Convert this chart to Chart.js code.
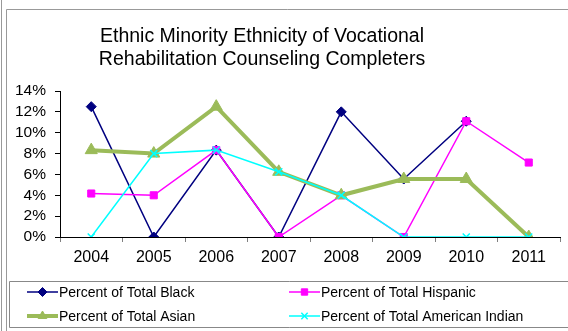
<!DOCTYPE html>
<html>
<head>
<meta charset="utf-8">
<script src="https://cdn.jsdelivr.net/npm/chart.js@4"></script>
<style>
html,body{margin:0;padding:0;background:#fff;}
#wrap{width:568px;height:331px;position:relative;}
</style>
</head>
<body>
<div id="wrap"><canvas id="c" width="568" height="331"></canvas></div>
<script>
const categories = ['2004','2005','2006','2007','2008','2009','2010','2011'];
const black    = [12.5, 0, 8.33, 0, 12.0, 5.56, 11.1, null];
const hispanic = [4.17, 4.0, 8.33, 0, 4.0, 0, 11.1, 7.14];
const asian    = [8.33, 8.0, 12.5, 6.25, 4.0, 5.56, 5.56, 0];
const amIndian = [0, 8.0, 8.33, 6.25, 4.0, 0, 0, 0];
const seriesLabels = ['Percent of Total Black','Percent of Total Hispanic','Percent of Total Asian','Percent of Total American Indian'];
const titleLines = ['Ethnic Minority Ethnicity of Vocational','Rehabilitation Counseling Completers'];
const yTicks = [0,2,4,6,8,10,12,14];

const FONT = '"Liberation Sans", Arial, sans-serif';

const frame = {
  id:'frame',
  beforeDraw(chart){
    const ctx = chart.ctx;
    ctx.save();
    ctx.fillStyle = '#fff';
    ctx.fillRect(0,0,chart.width,chart.height);
    ctx.strokeStyle = '#999';
    ctx.lineWidth = 1;
    ctx.beginPath();
    ctx.moveTo(1.5,0); ctx.lineTo(1.5,331);
    ctx.moveTo(6.5,331); ctx.lineTo(6.5,9.5); ctx.lineTo(568,9.5);
    ctx.stroke();
    // legend box
    ctx.strokeStyle = '#888';
    ctx.beginPath();
    ctx.moveTo(570,281.5); ctx.lineTo(9.5,281.5); ctx.lineTo(9.5,327.5); ctx.lineTo(570,327.5);
    ctx.stroke();
    // title
    ctx.fillStyle = '#000';
    ctx.font = '19.5px ' + FONT;
    ctx.textAlign = 'center';
    ctx.textBaseline = 'alphabetic';
    ctx.fillText(titleLines[0], 262, 42);
    ctx.fillText(titleLines[1], 262, 65);
    ctx.restore();
  },
  afterDraw(chart){
    const ctx = chart.ctx;
    ctx.save();
    const cols = [27, 289];
    const rows = [292, 316];
    chart.data.datasets.forEach((ds,i)=>{
      const x0 = cols[i%2], y = rows[Math.floor(i/2)];
      ctx.strokeStyle = ds.borderColor;
      ctx.lineWidth = ds.borderWidth;
      ctx.beginPath();
      ctx.moveTo(x0, y); ctx.lineTo(x0+31, y);
      ctx.stroke();
      ctx.fillStyle = ds.pointBackgroundColor;
      ctx.strokeStyle = ds.pointBorderColor;
      ctx.lineWidth = ds.pointBorderWidth;
      Chart.helpers.drawPoint(ctx, {pointStyle: ds.pointStyle, radius: ds.legendRadius, borderWidth: ds.pointBorderWidth, rotation:0}, x0+15.5, y);
      ctx.fillStyle = '#000';
      ctx.font = '14px ' + FONT;
      ctx.textAlign = 'left';
      ctx.textBaseline = 'middle';
      ctx.fillText(ds.label, x0+32, y+1);
    });
    ctx.restore();
  }
};

new Chart(document.getElementById('c'), {
  type:'line',
  data:{
    labels: categories,
    datasets:[
      {label:seriesLabels[0], data:black, borderColor:'#000080', borderWidth:1.5,
       pointStyle:'rectRot', pointRadius:5, legendRadius:4.5, pointBackgroundColor:'#000080', pointBorderColor:'#000080', pointBorderWidth:1, order:4, spanGaps:false},
      {label:seriesLabels[1], data:hispanic, borderColor:'#FF00FF', borderWidth:1.5,
       pointStyle:'rect', pointRadius:5, legendRadius:4.5, pointBackgroundColor:'#FF00FF', pointBorderColor:'#FF00FF', pointBorderWidth:1, order:3},
      {label:seriesLabels[2], data:asian, borderColor:'#9BBB59', borderWidth:4,
       pointStyle:'triangle', pointRadius:7, legendRadius:5, pointBackgroundColor:'#9BBB59', pointBorderColor:'#9BBB59', pointBorderWidth:1, order:2},
      {label:seriesLabels[3], data:amIndian, borderColor:'#00FFFF', borderWidth:1.5,
       pointStyle:'crossRot', pointRadius:5, legendRadius:4.5, pointBackgroundColor:'#00FFFF', pointBorderColor:'#00FFFF', pointBorderWidth:1.5, order:1}
    ]
  },
  options:{
    responsive:false,
    animation:false,
    events:[],
    layout:{padding:{left:0,right:7,top:91,bottom:0}},
    plugins:{legend:{display:false}, title:{display:false}, tooltip:{enabled:false}},
    elements:{line:{tension:0}},
    scales:{
      x:{
        offset:true,
        afterFit(s){ s.height = 94; },
        grid:{display:true, drawOnChartArea:false, offset:true, tickLength:5, color:'#000', tickColor:'#808080'},
        border:{display:true, color:'#000', width:1},
        ticks:{color:'#000', font:{family:FONT, size:16}, padding:6, maxRotation:0, autoSkip:false}
      },
      y:{
        min:0, max:14,
        afterFit(s){ s.width = 60; },
        afterBuildTicks(s){ s.ticks = yTicks.map(v=>({value:v})); },
        grid:{display:true, drawOnChartArea:false, tickLength:5, color:'#000', tickColor:'#000'},
        border:{display:true, color:'#000', width:1},
        ticks:{color:'#000', font:{family:FONT, size:15.5}, padding:9, autoSkip:false, callback:v=>v+'%'}
      }
    }
  },
  plugins:[frame]
});
</script>
</body>
</html>
